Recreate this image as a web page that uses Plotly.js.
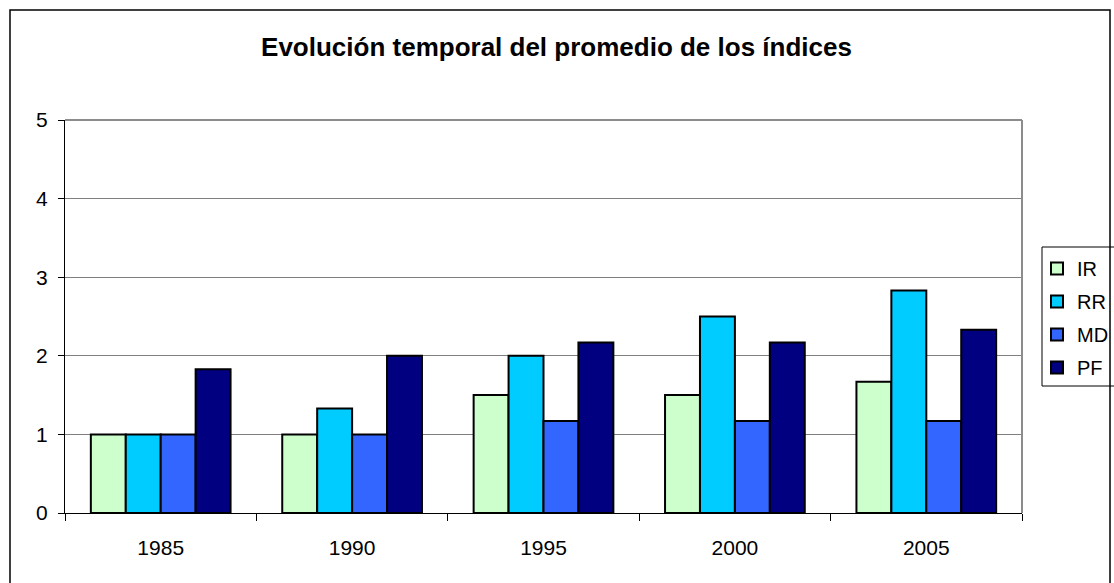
<!DOCTYPE html>
<html>
<head>
<meta charset="utf-8">
<script src="https://cdn.plot.ly/plotly-3.0.1.min.js"></script>
<style>html,body{margin:0;padding:0;background:#fff;}#chart{width:1114px;height:583px;}</style>
</head>
<body>
<div id="chart"></div>
<script>
const years = ['1985', '1990', '1995', '2000', '2005'];
const seriesNames = ['IR', 'RR', 'MD', 'PF'];
const IR = [1, 1, 1.5, 1.5, 1.67];
const RR = [1, 1.33, 2, 2.5, 2.83];
const MD = [1, 1, 1.17, 1.17, 1.17];
const PF = [1.83, 2, 2.17, 2.17, 2.33];
const yTicks = [0, 1, 2, 3, 4, 5];
const colors = ['#CCFFCC', '#00CCFF', '#3366FF', '#000080'];

const values = [IR, RR, MD, PF];
const traces = seriesNames.map((name, i) => ({
  type: 'bar',
  name: name,
  x: years,
  y: values[i],
  legendgroup: name,
  marker: {color: colors[i], line: {color: '#000000', width: 2}},
  hoverinfo: 'x+y+name'
}));

// pixel helpers for paper coordinates (plot area 65..1022 x 120..513)
const L = 65, R = 1022, T = 120, B = 513;
const px = v => (v - L) / (R - L);
const py = v => (B - v) / (B - T);

const layout = {
  width: 1114,
  height: 583,
  margin: {l: L, r: 1114 - R, t: T, b: 583 - B, pad: 0, autoexpand: false},
  paper_bgcolor: '#ffffff',
  plot_bgcolor: '#ffffff',
  font: {family: 'Liberation Sans, Arial, sans-serif', size: 20, color: '#000000'},
  title: {
    text: '<b>Evolución temporal del promedio de los índices</b>',
    font: {family: 'Liberation Sans, Arial, sans-serif', size: 26, color: '#000000'},
    x: 556.5 / 1114, xref: 'container', xanchor: 'center',
    y: 1 - 47 / 583, yref: 'container', yanchor: 'middle'
  },
  barmode: 'group',
  bargap: 0.27,
  bargroupgap: 0,
  xaxis: {
    type: 'category',
    showline: true, linecolor: '#000000', linewidth: 1,
    ticks: 'outside', tickson: 'boundaries', ticklen: 7, tickcolor: '#000000', tickwidth: 1,
    ticklabelstandoff: 16,
    showgrid: false, zeroline: false,
    tickfont: {size: 21}
  },
  yaxis: {
    range: [0, 5],
    tickvals: yTicks,
    showline: true, linecolor: '#000000', linewidth: 1,
    ticks: 'outside', ticklen: 6, tickcolor: '#000000', tickwidth: 1,
    ticklabelstandoff: 6,
    showgrid: true, gridcolor: '#808080', gridwidth: 1,
    zeroline: false,
    tickfont: {size: 21}
  },
  showlegend: true,
  legend: {
    x: px(1037), xanchor: 'left',
    y: py(249), yanchor: 'top',
    bgcolor: 'rgba(0,0,0,0)',
    borderwidth: 0,
    font: {size: 20},
    tracegroupgap: 4,
    traceorder: 'grouped'
  },
  shapes: [
    // outer chart border
    {type: 'rect', xref: 'paper', yref: 'paper', x0: px(10), x1: px(1110), y0: py(600), y1: py(10),
     line: {color: '#000000', width: 1.5}, fillcolor: 'rgba(0,0,0,0)', layer: 'below'},
    // plot area top and right border (gray)
    {type: 'line', xref: 'paper', yref: 'paper', x0: 0, x1: 1, y0: 1, y1: 1, line: {color: '#8c8c8c', width: 2}},
    {type: 'line', xref: 'paper', yref: 'paper', x0: 1, x1: 1, y0: 0, y1: 1, line: {color: '#8c8c8c', width: 2}},
    // legend box
    {type: 'rect', xref: 'paper', yref: 'paper', x0: px(1042), x1: px(1125), y0: py(386), y1: py(247),
     line: {color: '#000000', width: 1}, fillcolor: 'rgba(0,0,0,0)'}
  ]
};

Plotly.newPlot('chart', traces, layout, {displayModeBar: false, staticPlot: true});
</script>
</body>
</html>
